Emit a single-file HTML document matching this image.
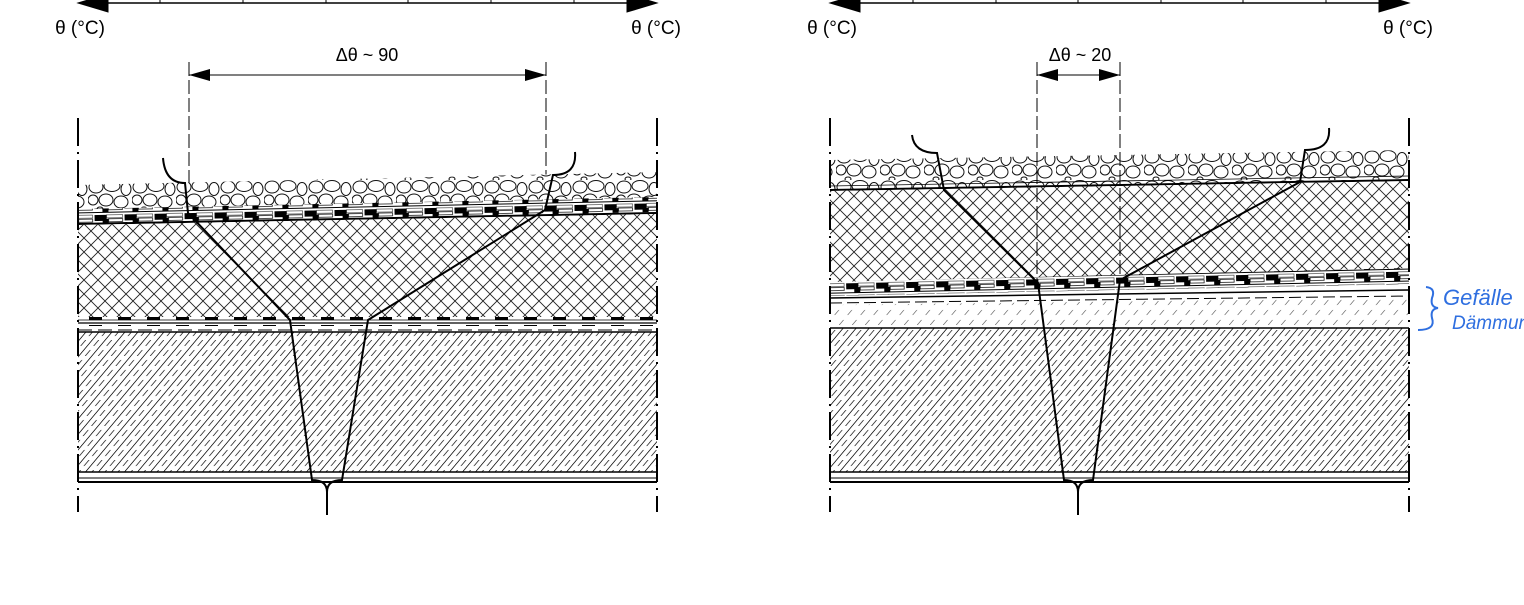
<!DOCTYPE html>
<html><head><meta charset="utf-8"><style>
html,body{margin:0;padding:0;background:#fff;width:1524px;height:605px;overflow:hidden}
svg{display:block}
text{font-family:"Liberation Sans",sans-serif}
</style></head><body>
<svg id="c" width="1524" height="605" viewBox="0 0 1524 605">
<defs>
<pattern id="gravel" width="44" height="30" patternUnits="userSpaceOnUse">
<rect width="44" height="30" fill="#fff"/>
<g fill="#fff" stroke="#111" stroke-width="1">
<ellipse cx="8" cy="7" rx="7" ry="6"/><ellipse cx="24" cy="6" rx="8" ry="5.5"/><ellipse cx="38" cy="9" rx="5" ry="6.5"/>
<ellipse cx="5" cy="20" rx="5" ry="5"/><ellipse cx="18" cy="20" rx="7" ry="6"/><ellipse cx="33" cy="22" rx="7" ry="6"/>
<ellipse cx="12" cy="29" rx="3" ry="2"/>
</g></pattern>
<pattern id="cross" width="14" height="14" patternUnits="userSpaceOnUse">
<rect width="14" height="14" fill="#fff"/>
<path d="M0 0L14 14M14 0L0 14" stroke="#222" stroke-width="0.9"/></pattern>
<pattern id="membrane" width="30" height="12" patternUnits="userSpaceOnUse" patternTransform="rotate(-1.2)">
<rect width="30" height="12" fill="#fff"/>
<rect x="0" y="1" width="12" height="6" fill="#000"/><rect x="8" y="5" width="6" height="5" fill="#000"/>
<rect x="14" y="5" width="14" height="3" fill="#fff" stroke="#000" stroke-width="0.7"/>
<rect x="12" y="1" width="16" height="3" fill="#fff" stroke="#000" stroke-width="0.5"/>
<line x1="0" y1="10.5" x2="30" y2="10.5" stroke="#000" stroke-width="1"/></pattern>
<pattern id="membrane2" width="29" height="9" patternUnits="userSpaceOnUse">
<rect width="29" height="9" fill="#fff"/>
<rect x="2" y="1" width="13" height="4" fill="#000"/>
<line x1="0" y1="5" x2="29" y2="5" stroke="#000" stroke-width="0.8"/>
<line x1="0" y1="8" x2="29" y2="8" stroke="#000" stroke-width="1.2"/></pattern>
<pattern id="concrete" width="13" height="200" patternUnits="userSpaceOnUse" patternTransform="skewX(-40)">
<rect width="13" height="200" fill="#fff"/>
<line x1="0.5" y1="0" x2="0.5" y2="200" stroke="#111" stroke-width="1.1"/>
<line x1="7" y1="0" x2="7" y2="200" stroke="#333" stroke-width="1.1" stroke-dasharray="6,4"/></pattern>
<pattern id="light" width="13" height="200" patternUnits="userSpaceOnUse" patternTransform="skewX(-40)">
<rect width="13" height="200" fill="#fff"/>
<line x1="7" y1="0" x2="7" y2="200" stroke="#666" stroke-width="0.9" stroke-dasharray="5,5"/></pattern>
</defs>

<!-- LEFT PANEL -->
<g>
<g stroke="#000">
<line x1="95" y1="3" x2="640" y2="3" stroke-width="1.5"/>
<polygon points="78,3 108,-6 108,12" fill="#000"/>
<polygon points="657,3 627,-6 627,12" fill="#000"/>
<g stroke-width="1"><line x1="160" y1="-5" x2="160" y2="3"/><line x1="243" y1="-5" x2="243" y2="3"/><line x1="326" y1="-5" x2="326" y2="3"/><line x1="408" y1="-5" x2="408" y2="3"/><line x1="491" y1="-5" x2="491" y2="3"/><line x1="574" y1="-5" x2="574" y2="3"/></g>
</g>
<text x="80" y="34" font-size="19" text-anchor="middle">θ (°C)</text>
<text x="656" y="34" font-size="19" text-anchor="middle">θ (°C)</text>
<text x="367" y="61" font-size="18" text-anchor="middle">Δθ ~ 90</text>
<g stroke="#000">
<line x1="189" y1="75" x2="546" y2="75" stroke-width="1"/>
<polygon points="189,75 210,69 210,81" fill="#000" stroke="none"/>
<polygon points="546,75 525,69 525,81" fill="#000" stroke="none"/>
<line x1="189" y1="62" x2="189" y2="212" stroke-width="1" stroke-dasharray="14,4"/>
<line x1="546" y1="62" x2="546" y2="205" stroke-width="1" stroke-dasharray="14,4"/>
</g>
<polygon points="78,185 657,172 657,200 78,210" fill="url(#gravel)"/>
<polygon points="78,209 657,197 657,212 78,224" fill="url(#membrane)"/>
<line x1="78" y1="224" x2="657" y2="213" stroke="#000" stroke-width="2"/>
<polygon points="78,225 657,214 657,317 78,317" fill="url(#cross)"/>
<rect x="78" y="317" width="579" height="9" fill="url(#membrane2)"/>
<line x1="78" y1="330" x2="657" y2="330" stroke="#000" stroke-width="1" stroke-dasharray="14,6"/>
<rect x="78" y="332" width="579" height="140" fill="url(#concrete)"/>
<line x1="78" y1="332" x2="657" y2="332" stroke="#000" stroke-width="1.5"/>
<line x1="78" y1="472" x2="657" y2="472" stroke="#000" stroke-width="1.5"/>
<line x1="78" y1="478" x2="657" y2="478" stroke="#000" stroke-width="1"/>
<line x1="78" y1="482" x2="657" y2="482" stroke="#000" stroke-width="2"/>
<g stroke="#000" stroke-width="2" stroke-dasharray="28,6,2,6">
<line x1="78" y1="118" x2="78" y2="512"/><line x1="657" y1="118" x2="657" y2="512"/></g>
</g>

<!-- RIGHT PANEL -->
<g>
<g stroke="#000">
<line x1="847" y1="3" x2="1392" y2="3" stroke-width="1.5"/>
<polygon points="830,3 860,-6 860,12" fill="#000"/>
<polygon points="1409,3 1379,-6 1379,12" fill="#000"/>
<g stroke-width="1"><line x1="913" y1="-5" x2="913" y2="3"/><line x1="996" y1="-5" x2="996" y2="3"/><line x1="1078" y1="-5" x2="1078" y2="3"/><line x1="1161" y1="-5" x2="1161" y2="3"/><line x1="1243" y1="-5" x2="1243" y2="3"/><line x1="1326" y1="-5" x2="1326" y2="3"/></g>
</g>
<text x="832" y="34" font-size="19" text-anchor="middle">θ (°C)</text>
<text x="1408" y="34" font-size="19" text-anchor="middle">θ (°C)</text>
<text x="1080" y="61" font-size="18" text-anchor="middle">Δθ ~ 20</text>
<g stroke="#000">
<line x1="1037" y1="75" x2="1120" y2="75" stroke-width="1"/>
<polygon points="1037,75 1058,69 1058,81" fill="#000" stroke="none"/>
<polygon points="1120,75 1099,69 1099,81" fill="#000" stroke="none"/>
</g>
<polygon points="830,160 1409,150 1409,180 830,190" fill="url(#gravel)"/>
<line x1="830" y1="190" x2="1409" y2="180" stroke="#000" stroke-width="2"/>
<line x1="830" y1="186" x2="1409" y2="176" stroke="#000" stroke-width="0.8"/>
<polygon points="830,191 1409,181 1409,270 830,283" fill="url(#cross)"/>
<polygon points="830,282 1409,268 1409,284 830,296" fill="url(#membrane)"/>
<line x1="830" y1="298" x2="1409" y2="290" stroke="#000" stroke-width="1.5"/>
<line x1="830" y1="303" x2="1409" y2="296" stroke="#000" stroke-width="1" stroke-dasharray="12,5"/>
<polygon points="830,305 1409,298 1409,328 830,328" fill="url(#light)"/>
<rect x="830" y="328" width="579" height="144" fill="url(#concrete)"/>
<line x1="830" y1="328" x2="1409" y2="328" stroke="#000" stroke-width="1.5"/>
<line x1="830" y1="472" x2="1409" y2="472" stroke="#000" stroke-width="1.5"/>
<line x1="830" y1="478" x2="1409" y2="478" stroke="#000" stroke-width="1"/>
<line x1="830" y1="482" x2="1409" y2="482" stroke="#000" stroke-width="2"/>
<g stroke="#000" stroke-width="1" stroke-dasharray="14,4">
<line x1="1037" y1="62" x2="1037" y2="283"/><line x1="1120" y1="62" x2="1120" y2="280"/></g>
<g stroke="#000" stroke-width="2" stroke-dasharray="28,6,2,6">
<line x1="830" y1="118" x2="830" y2="512"/><line x1="1409" y1="118" x2="1409" y2="512"/></g>
<path d="M1426 287 Q1436 288 1432 298 Q1430 307 1438 308 Q1430 309 1432 318 Q1436 330 1418 330" fill="none" stroke="#2f6fe0" stroke-width="2"/>
<text x="1443" y="305" font-size="22" fill="#2f6fe0" font-style="italic">Gefälle</text>
<text x="1452" y="329" font-size="19" fill="#2f6fe0" font-style="italic">Dämmung</text>
</g>
<g id="profiles"></g>
</svg>
<script>
// temperature profile lines (layer boundary x positions at y levels)
const leftInnerX = [163, 185, 188, 290, 312];
const leftInnerY = [158, 183, 213, 320, 480];
const leftOuterX = [575, 553, 545, 368, 342];
const leftOuterY = [152, 175, 210, 320, 480];
const rightInnerX = [912, 937, 944, 1038, 1064];
const rightInnerY = [135, 153, 190, 283, 480];
const rightOuterX = [1329, 1305, 1300, 1120, 1093];
const rightOuterY = [128, 150, 182, 280, 480];
const joinLeft = [327, 515];
const joinRight = [1078, 515];
const NS = 'http://www.w3.org/2000/svg';
const g = document.getElementById('profiles');
function prof(xs, ys, join, name) {
  let d = 'M' + xs[0] + ' ' + ys[0] + ' Q' + (xs[0] + 2) + ' ' + ys[1] + ' ' + xs[1] + ' ' + ys[1];
  for (let i = 2; i < xs.length; i++) d += ' L' + xs[i] + ' ' + ys[i];
  d += ' Q' + join[0] + ' ' + ys[ys.length - 1] + ' ' + join[0] + ' ' + (ys[ys.length - 1] + 12) + ' L' + join[0] + ' ' + join[1];
  const p = document.createElementNS(NS, 'path');
  p.setAttribute('d', d);
  p.setAttribute('fill', 'none');
  p.setAttribute('stroke', '#000');
  p.setAttribute('stroke-width', '2');
  
  
  g.appendChild(p);
}
prof(leftInnerX, leftInnerY, joinLeft, 'left-temperature-profile-inner');
prof(leftOuterX, leftOuterY, joinLeft, 'left-temperature-profile-outer');
prof(rightInnerX, rightInnerY, joinRight, 'right-temperature-profile-inner');
prof(rightOuterX, rightOuterY, joinRight, 'right-temperature-profile-outer');
</script>
</body></html>
